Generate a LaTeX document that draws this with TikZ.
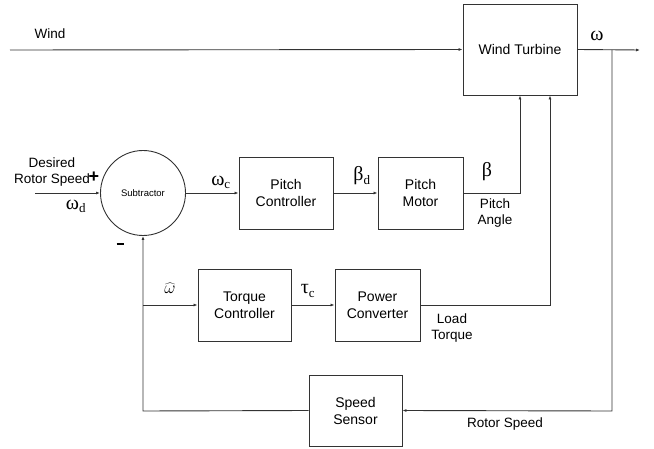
\documentclass[tikz,border=0pt]{standalone}
\usepackage{fontspec}
\setmainfont{Liberation Sans}
\newfontfamily\grk{Liberation Serif}
\usetikzlibrary{arrows.meta}
\definecolor{ln}{HTML}{333333}
\begin{document}
\begin{tikzpicture}[x=1pt,y=-1pt,
  blk/.style={draw=ln,line width=0.9pt,minimum width=#1,inner sep=0pt,align=center,font=\fontsize{14}{17}\selectfont},
  blk/.default=90pt,
  wire/.style={draw=ln,line width=0.9pt},
  arr/.style={wire,-{Latex[length=4pt,width=3pt]}},
  lbl/.style={font=\fontsize{13.5}{16.5}\selectfont,align=center,inner sep=0pt},
  gk/.style={font=\grk\fontsize{20}{20}\selectfont,inner sep=0pt}]
\useasboundingbox (0,0) rectangle (654,449);
\node[blk=114pt,minimum height=91pt] (wt) at (520,49.5) {Wind Turbine};
\node[circle,draw=ln,line width=0.9pt,minimum size=85pt,inner sep=0pt,font=\fontsize{9.5}{11}\selectfont] (sub) at (143,193) {Subtractor};
\node[blk=94pt,minimum height=72pt] (pc) at (286,193) {Pitch\\Controller};
\node[blk=85pt,minimum height=72pt] (pm) at (420.5,193) {Pitch\\Motor};
\node[blk=93pt,minimum height=72pt] (tc) at (244.5,305) {Torque\\Controller};
\node[blk=85pt,minimum height=72pt] (pw) at (377.5,305) {Power\\Converter};
\node[blk=93pt,minimum height=71pt] (ss) at (355.5,410.5) {Speed\\Sensor};

\coordinate (windin) at (10,50);
\coordinate (omout) at (640,50);
\coordinate (branch) at (612,50);
\coordinate (brdown) at (612,411);
\coordinate (desin) at (35,193);
\coordinate (fbcorner) at (143,411);
\coordinate (fbtap) at (143,305);

\draw[arr] (windin) -- (wt.west);
\draw[arr] (wt.east) -- (omout);
\draw[arr] (branch) -- (brdown) -- (ss.east);
\draw[arr] (desin) -- (sub.west);
\draw[arr] (sub.east) -- (pc.west);
\draw[arr] (pc.east) -- (pm.west);
\draw[arr] (pm.east) -| (wt.south);
\draw[arr] (pw.east) -| ([xshift=30pt]wt.south);
\draw[arr] (ss.west) -- (fbcorner) -- (sub.south);
\draw[arr] (fbtap) -- (tc.west);
\draw[arr] (tc.east) -- (pw.west);

\node[lbl] (lwind) at (50,34) {Wind};
\node[gk] (lom) at (597,36) {ω};
\node[lbl] (ldes) at (52,172) {Desired\\Rotor Speed};
\node[font=\bfseries\fontsize{18}{18}\selectfont,inner sep=0pt] (lplus) at (94,177) {+};
\node[inner sep=0pt] (lminus) at (120,244) {\rule{7pt}{2.6pt}};
\node[gk] (lomd) at (76,206) {ω\textsubscript{\fontsize{13}{13}\selectfont d}};
\node[gk] (lomc) at (221,182) {ω\textsubscript{\fontsize{13}{13}\selectfont c}};
\node[gk] (lbd) at (362,176) {β\textsubscript{\fontsize{13}{13}\selectfont d}};
\node[gk] (lb) at (487,172) {β};
\node[lbl] (lpa) at (495,213) {Pitch\\Angle};
\node[inner sep=0pt,font=\fontsize{18}{18}\selectfont] (lwh) at (170,288) {$\widehat{\omega}$};
\node[gk] (ltc) at (308,291) {τ\textsubscript{\fontsize{13}{13}\selectfont c}};
\node[lbl] (llt) at (452,328) {Load\\Torque};
\node[lbl] (lrs) at (505,424) {Rotor Speed};
\end{tikzpicture}
\end{document}
